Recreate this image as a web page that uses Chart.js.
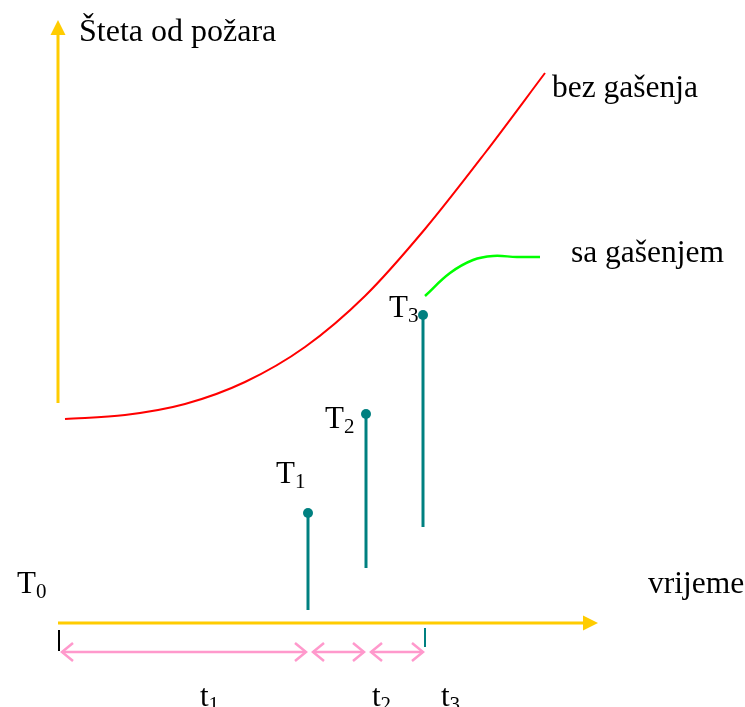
<!DOCTYPE html>
<html>
<head>
<meta charset="utf-8">
<script src="https://cdn.jsdelivr.net/npm/chart.js@4.4.1/dist/chart.umd.min.js"></script>
<style>
  html, body { margin: 0; padding: 0; background: #ffffff; }
  #wrap { width: 745px; height: 707px; position: relative; }
</style>
</head>
<body>
<div id="wrap"><canvas id="c"></canvas></div>
<script>
// ---- data (time on x, damage on y, arbitrary units, origin at T0) ----
const redTime   = [7, 67, 127, 187, 247, 307, 367, 427, 487];
const redDamage = [204, 208, 219, 241, 276, 327, 394, 470, 550];
const greenTime   = [367, 392, 415, 435, 459, 482];
const greenDamage = [327, 350, 363, 367, 366, 366];
const stemTime   = [250, 308, 365];
const stemTop    = [110, 209, 308];
const stemBottom = [13, 55, 96];
const stemLabels = ['1', '2', '3'];
const intervalStart = [4, 255, 313];
const intervalEnd   = [248, 306, 365];
const intervalLabels = ['1', '2', '3'];
const timeAxisEnd = 540;
const damageAxisStart = 220;
const damageAxisTop = 603;
const t0TickTime = 1;
const t3TickTime = 367;

const toPts = (xs, ys) => xs.map((x, i) => ({ x: x, y: ys[i] }));

const YELLOW = '#FFCC00', RED = '#FF0000', GREEN = '#00FF00', TEAL = '#008080', PINK = '#FF99CC';

const datasets = [];
// axes
datasets.push({ data: [{x: 0, y: damageAxisStart}, {x: 0, y: damageAxisTop - 12}], borderColor: YELLOW, borderWidth: 3, pointRadius: 0 });
datasets.push({ data: [{x: 0, y: 0}, {x: timeAxisEnd - 12, y: 0}], borderColor: YELLOW, borderWidth: 3, pointRadius: 0 });
// ticks
datasets.push({ data: [{x: t0TickTime, y: -7}, {x: t0TickTime, y: -28}], borderColor: '#000000', borderWidth: 2, pointRadius: 0 });
datasets.push({ data: [{x: t3TickTime, y: -5}, {x: t3TickTime, y: -24}], borderColor: TEAL, borderWidth: 2, pointRadius: 0 });
// intervals
intervalStart.forEach((s, i) => {
  datasets.push({ data: [{x: s, y: -29}, {x: intervalEnd[i], y: -29}], borderColor: PINK, borderWidth: 2.5, pointRadius: 0 });
});
// curves
datasets.push({ data: toPts(redTime, redDamage), borderColor: RED, borderWidth: 2, pointRadius: 0, cubicInterpolationMode: 'monotone' });
datasets.push({ data: toPts(greenTime, greenDamage), borderColor: GREEN, borderWidth: 2.5, pointRadius: 0, tension: 0.4 });
// stems
stemTime.forEach((t, i) => {
  datasets.push({ data: [{x: t, y: stemBottom[i]}, {x: t, y: stemTop[i]}], borderColor: TEAL, backgroundColor: TEAL, borderWidth: 3, pointRadius: [0, 5], pointBorderWidth: 0 });
});

const FONT = '"Liberation Serif", "Times New Roman", serif';

function textSub(ctx, main, sub, x, y, size, subSize, subDrop) {
  ctx.font = size + 'px ' + FONT;
  ctx.fillText(main, x, y);
  const w = ctx.measureText(main).width;
  if (sub) {
    ctx.font = subSize + 'px ' + FONT;
    ctx.fillText(sub, x + w, y + subDrop);
  }
}

const decor = {
  id: 'decor',
  beforeDatasetsDraw(chart) {
    const ctx = chart.ctx, xs = chart.scales.x, ys = chart.scales.y;
    ctx.save();
    ctx.fillStyle = '#000000';
    ctx.textBaseline = 'alphabetic';
    ctx.textAlign = 'left';
    const X = v => xs.getPixelForValue(v), Y = v => ys.getPixelForValue(v);
    textSub(ctx, 'Šteta od požara', '', X(0) + 21, Y(damageAxisTop) + 21, 32);
    textSub(ctx, 'bez gašenja', '', X(redTime[redTime.length - 1]) + 7, Y(redDamage[redDamage.length - 1]) + 24, 31.5);
    textSub(ctx, 'sa gašenjem', '', X(greenTime[greenTime.length - 1]) + 31, Y(greenDamage[greenDamage.length - 1]) + 5, 31.5);
    textSub(ctx, 'vrijeme', '', X(timeAxisEnd) + 50, Y(0) - 30, 31.5);
    textSub(ctx, 'T', '0', X(0) - 41, Y(0) - 30, 31, 21, 5);
    const lblOff = [[-32, -30], [-41, 14], [-34, 2]];
    stemTime.forEach((t, i) => {
      textSub(ctx, 'T', stemLabels[i], X(t) + lblOff[i][0], Y(stemTop[i]) + lblOff[i][1], 31, 21, 5);
    });
    textSub(ctx, 't', intervalLabels[0], X(intervalStart[0]) + 138, 706, 31, 21, 5);
    textSub(ctx, 't', intervalLabels[1], X(intervalStart[1]) + 59, 706, 31, 21, 5);
    textSub(ctx, 't', intervalLabels[2], X(intervalStart[2]) + 70, 706, 31, 21, 5);
    ctx.restore();
  },
  afterDatasetsDraw(chart) {
    const ctx = chart.ctx, xs = chart.scales.x, ys = chart.scales.y;
    const X = v => xs.getPixelForValue(v), Y = v => ys.getPixelForValue(v);
    ctx.save();
    // yellow arrowheads
    ctx.fillStyle = YELLOW;
    let tx = X(0), ty = Y(damageAxisTop);
    ctx.beginPath(); ctx.moveTo(tx, ty); ctx.lineTo(tx - 7.5, ty + 15); ctx.lineTo(tx + 7.5, ty + 15); ctx.closePath(); ctx.fill();
    tx = X(timeAxisEnd); ty = Y(0);
    ctx.beginPath(); ctx.moveTo(tx, ty); ctx.lineTo(tx - 15, ty - 7.5); ctx.lineTo(tx - 15, ty + 7.5); ctx.closePath(); ctx.fill();
    // pink chevrons
    ctx.strokeStyle = PINK; ctx.lineWidth = 2.5; ctx.lineJoin = 'miter';
    intervalStart.forEach((s, i) => {
      const y = Y(-29), a = X(s), b = X(intervalEnd[i]);
      ctx.beginPath(); ctx.moveTo(a + 11, y - 9); ctx.lineTo(a, y); ctx.lineTo(a + 11, y + 9); ctx.stroke();
      ctx.beginPath(); ctx.moveTo(b - 11, y - 9); ctx.lineTo(b, y); ctx.lineTo(b - 11, y + 9); ctx.stroke();
    });
    ctx.restore();
  }
};

new Chart(document.getElementById('c'), {
  type: 'line',
  data: { datasets: datasets },
  options: {
    responsive: true,
    maintainAspectRatio: false,
    animation: false,
    devicePixelRatio: 1,
    layout: { padding: 0, autoPadding: false },
    plugins: { legend: { display: false }, tooltip: { enabled: false } },
    scales: {
      x: { type: 'linear', min: -58, max: 687, display: false },
      y: { type: 'linear', min: -84, max: 623, display: false }
    }
  },
  plugins: [decor]
});
</script>
</body>
</html>
